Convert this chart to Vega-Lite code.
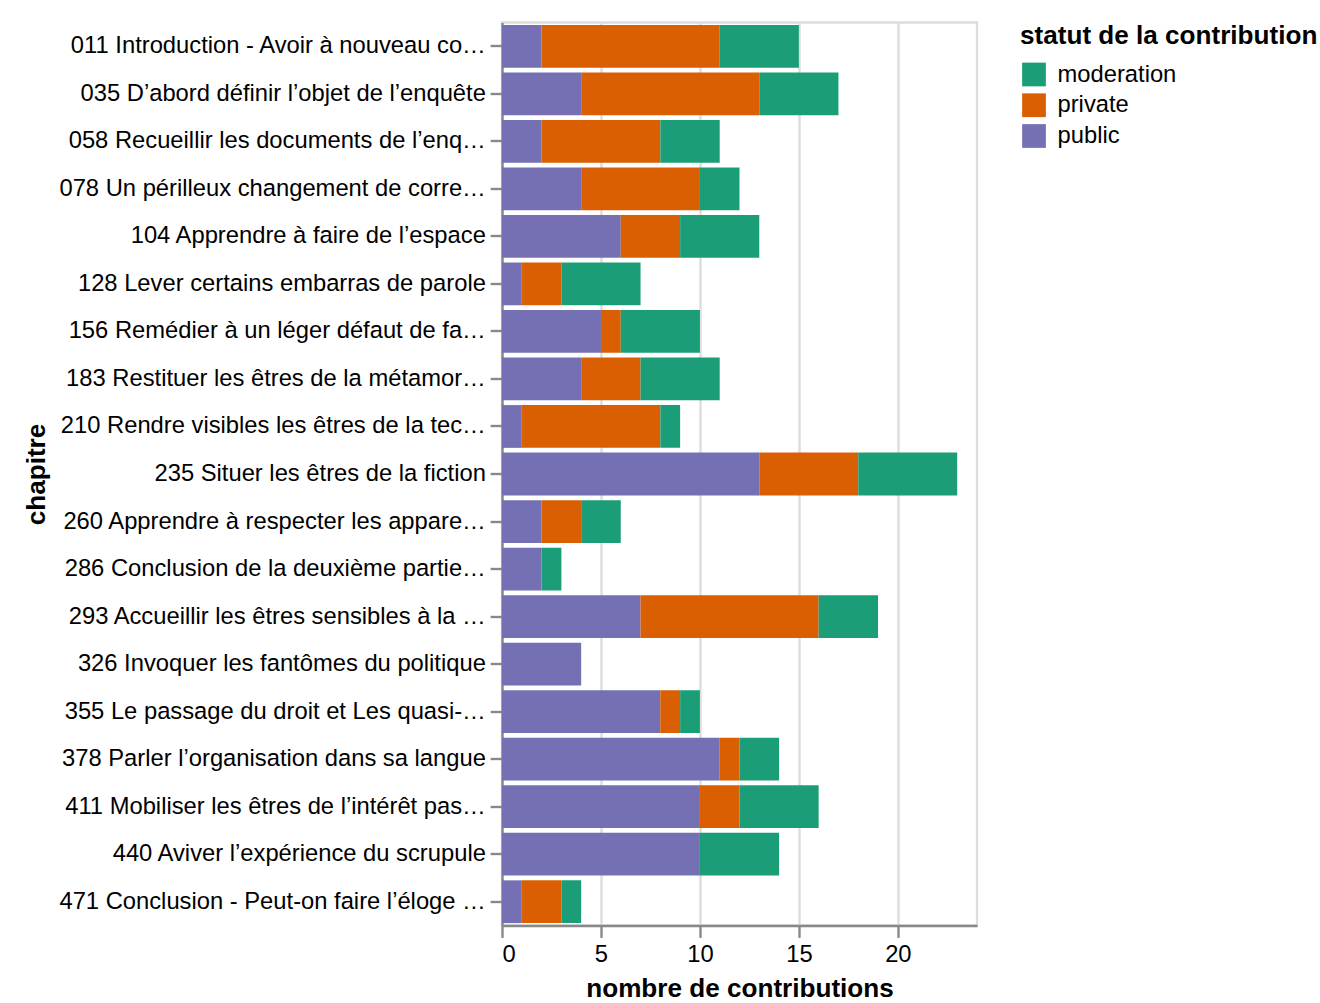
{
  "$schema": "https://vega.github.io/schema/vega-lite/v6.json",
  "autosize": {"type": "none"},
  "padding": {"left": 502, "top": 22.5, "right": 343, "bottom": 77.5},
  "width": 475,
  "height": 903,
  "background": "white",
  "data": {"values": [
    {"chapitre": "011 Introduction - Avoir à nouveau co…", "statut": "public", "n": 2},
    {"chapitre": "011 Introduction - Avoir à nouveau co…", "statut": "private", "n": 9},
    {"chapitre": "011 Introduction - Avoir à nouveau co…", "statut": "moderation", "n": 4},
    {"chapitre": "035 D’abord définir l’objet de l’enquête", "statut": "public", "n": 4},
    {"chapitre": "035 D’abord définir l’objet de l’enquête", "statut": "private", "n": 9},
    {"chapitre": "035 D’abord définir l’objet de l’enquête", "statut": "moderation", "n": 4},
    {"chapitre": "058 Recueillir les documents de l’enq…", "statut": "public", "n": 2},
    {"chapitre": "058 Recueillir les documents de l’enq…", "statut": "private", "n": 6},
    {"chapitre": "058 Recueillir les documents de l’enq…", "statut": "moderation", "n": 3},
    {"chapitre": "078 Un périlleux changement de corre…", "statut": "public", "n": 4},
    {"chapitre": "078 Un périlleux changement de corre…", "statut": "private", "n": 6},
    {"chapitre": "078 Un périlleux changement de corre…", "statut": "moderation", "n": 2},
    {"chapitre": "104 Apprendre à faire de l’espace", "statut": "public", "n": 6},
    {"chapitre": "104 Apprendre à faire de l’espace", "statut": "private", "n": 3},
    {"chapitre": "104 Apprendre à faire de l’espace", "statut": "moderation", "n": 4},
    {"chapitre": "128 Lever certains embarras de parole", "statut": "public", "n": 1},
    {"chapitre": "128 Lever certains embarras de parole", "statut": "private", "n": 2},
    {"chapitre": "128 Lever certains embarras de parole", "statut": "moderation", "n": 4},
    {"chapitre": "156 Remédier à un léger défaut de fa…", "statut": "public", "n": 5},
    {"chapitre": "156 Remédier à un léger défaut de fa…", "statut": "private", "n": 1},
    {"chapitre": "156 Remédier à un léger défaut de fa…", "statut": "moderation", "n": 4},
    {"chapitre": "183 Restituer les êtres de la métamor…", "statut": "public", "n": 4},
    {"chapitre": "183 Restituer les êtres de la métamor…", "statut": "private", "n": 3},
    {"chapitre": "183 Restituer les êtres de la métamor…", "statut": "moderation", "n": 4},
    {"chapitre": "210 Rendre visibles les êtres de la tec…", "statut": "public", "n": 1},
    {"chapitre": "210 Rendre visibles les êtres de la tec…", "statut": "private", "n": 7},
    {"chapitre": "210 Rendre visibles les êtres de la tec…", "statut": "moderation", "n": 1},
    {"chapitre": "235 Situer les êtres de la fiction", "statut": "public", "n": 13},
    {"chapitre": "235 Situer les êtres de la fiction", "statut": "private", "n": 5},
    {"chapitre": "235 Situer les êtres de la fiction", "statut": "moderation", "n": 5},
    {"chapitre": "260 Apprendre à respecter les appare…", "statut": "public", "n": 2},
    {"chapitre": "260 Apprendre à respecter les appare…", "statut": "private", "n": 2},
    {"chapitre": "260 Apprendre à respecter les appare…", "statut": "moderation", "n": 2},
    {"chapitre": "286 Conclusion de la deuxième partie…", "statut": "public", "n": 2},
    {"chapitre": "286 Conclusion de la deuxième partie…", "statut": "moderation", "n": 1},
    {"chapitre": "293 Accueillir les êtres sensibles à la …", "statut": "public", "n": 7},
    {"chapitre": "293 Accueillir les êtres sensibles à la …", "statut": "private", "n": 9},
    {"chapitre": "293 Accueillir les êtres sensibles à la …", "statut": "moderation", "n": 3},
    {"chapitre": "326 Invoquer les fantômes du politique", "statut": "public", "n": 4},
    {"chapitre": "355 Le passage du droit et Les quasi-…", "statut": "public", "n": 8},
    {"chapitre": "355 Le passage du droit et Les quasi-…", "statut": "private", "n": 1},
    {"chapitre": "355 Le passage du droit et Les quasi-…", "statut": "moderation", "n": 1},
    {"chapitre": "378 Parler l’organisation dans sa langue", "statut": "public", "n": 11},
    {"chapitre": "378 Parler l’organisation dans sa langue", "statut": "private", "n": 1},
    {"chapitre": "378 Parler l’organisation dans sa langue", "statut": "moderation", "n": 2},
    {"chapitre": "411 Mobiliser les êtres de l’intérêt pas…", "statut": "public", "n": 10},
    {"chapitre": "411 Mobiliser les êtres de l’intérêt pas…", "statut": "private", "n": 2},
    {"chapitre": "411 Mobiliser les êtres de l’intérêt pas…", "statut": "moderation", "n": 4},
    {"chapitre": "440 Aviver l’expérience du scrupule", "statut": "public", "n": 10},
    {"chapitre": "440 Aviver l’expérience du scrupule", "statut": "moderation", "n": 4},
    {"chapitre": "471 Conclusion - Peut-on faire l’éloge …", "statut": "public", "n": 1},
    {"chapitre": "471 Conclusion - Peut-on faire l’éloge …", "statut": "private", "n": 2},
    {"chapitre": "471 Conclusion - Peut-on faire l’éloge …", "statut": "moderation", "n": 1}
  ]},
  "mark": {"type": "bar"},
  "encoding": {
    "y": {"field": "chapitre", "type": "nominal", "title": "chapitre", "axis": {"titleX": -453}},
    "x": {"field": "n", "aggregate": "sum", "type": "quantitative", "title": "nombre de contributions", "axis": {"tickCount": 5, "titlePadding": 10}},
    "color": {
      "field": "statut", "type": "nominal", "title": "statut de la contribution",
      "scale": {"domain": ["moderation", "private", "public"], "range": ["#1b9e77", "#d95f02", "#7570b3"]}
    },
    "order": {"field": "statut", "type": "nominal", "sort": "descending"}
  },
  "config": {
    "font": "Liberation Sans",
    "view": {"stroke": "#ddd", "strokeWidth": 2.375},
    "axis": {
      "labelFontSize": 23.75, "titleFontSize": 26.125, "tickSize": 11.875, "tickWidth": 2.375,
      "domainWidth": 2.375, "gridWidth": 2.375, "labelPadding": 4.75, "titlePadding": 8,
      "labelLimit": 480
    },
    "legend": {
      "titleFontSize": 26.125, "labelFontSize": 23.75, "symbolSize": 564, "offset": 42.75,
      "titlePadding": 11.875, "labelOffset": 9.5, "rowPadding": 4.75, "symbolStrokeWidth": 3.5,
      "symbolType": "square", "titleLimit": 500, "labelLimit": 400
    }
  }
}
